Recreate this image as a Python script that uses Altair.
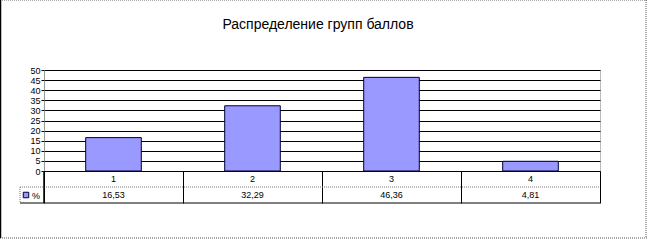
import altair as alt
import pandas as pd

title_text = "Распределение групп баллов"
categories = ["1", "2", "3", "4"]
values = [16.53, 32.29, 46.36, 4.81]
series_name = "%"
y_ticks = [0, 5, 10, 15, 20, 25, 30, 35, 40, 45, 50]

df = pd.DataFrame({
    "cat": categories,
    "val": values,
    "label": [f"{v:.2f}".replace(".", ",") for v in values],
})

W, H = 556, 101
FONT = "Liberation Sans"
BAR = "#9999ff"

x_enc = alt.X("cat:N", sort=categories,
              scale=alt.Scale(paddingInner=0, paddingOuter=0),
              axis=alt.Axis(title=None, labels=False, ticks=True, tickBand="extent",
                            tickSize=32, tickColor="black", tickWidth=1,
                            domainColor="black", domainWidth=1, grid=False))
y_scale = alt.Scale(domain=[0, 50], nice=False)

base = alt.Chart(df)

bars = base.mark_bar(width=alt.RelativeBandSize(0.4), color=BAR, stroke="#000033",
                     strokeWidth=1).encode(
    x=x_enc,
    y=alt.Y("val:Q", scale=y_scale,
            axis=alt.Axis(title=None, values=y_ticks, grid=True, gridColor="black",
                          gridWidth=1, domainColor="#777777", domainDash=[1, 1],
                          tickColor="black", tickSize=3, labelFont=FONT,
                          labelFontSize=9, labelPadding=1, labelColor="black")),
)

cat_text = base.mark_text(font=FONT, fontSize=9, color="black", baseline="middle").encode(
    x=alt.X("cat:N", sort=categories), y=alt.value(H + 8), text="cat:N")
val_text = base.mark_text(font=FONT, fontSize=9, color="black", baseline="middle").encode(
    x=alt.X("cat:N", sort=categories), y=alt.value(H + 24), text="label:N")

one = alt.Chart(pd.DataFrame({"t": [title_text], "s": [series_name]}))

title = one.mark_text(font=FONT, fontSize=14, color="black", baseline="alphabetic").encode(
    x=alt.value(274), y=alt.value(-41), text="t:N")

def hrule(x1, x2, y, color="black", dash=None):
    kw = dict(color=color, strokeWidth=1)
    if dash:
        kw["strokeDash"] = dash
    return one.mark_rule(**kw).encode(x=alt.value(x1), x2=alt.value(x2), y=alt.value(y))

def vrule(x, y1, y2, color="black", dash=None, width=1):
    kw = dict(color=color, strokeWidth=width)
    if dash:
        kw["strokeDash"] = dash
    return one.mark_rule(**kw).encode(x=alt.value(x), y=alt.value(y1), y2=alt.value(y2))

table_lines = [
    hrule(-24, W, H + 16, "#777777", [1, 1]),
    hrule(-24, W, H + 32, "black"),
    vrule(-24, H + 16, H + 32, "#777777", [1, 1]),
    vrule(0, H, H + 32, "black", width=1.5),
]

frame = [
    hrule(-44, 603, -70, "#555555", [1, 1]),
    hrule(-44, 603, 168, "#555555", [1, 1]),
    vrule(-43.5, -70, 168, "black", width=1.5),
    vrule(602, -70, 168, "#555555", [1, 1]),
]

legend_sym = one.mark_square(size=30, color=BAR, stroke="#000033", strokeWidth=1,
                             opacity=1).encode(x=alt.value(-18), y=alt.value(H + 24))
legend_txt = one.mark_text(font=FONT, fontSize=9, color="black", align="left",
                           baseline="middle").encode(
    x=alt.value(-12), y=alt.value(H + 25), text="s:N")

chart = alt.layer(
    bars, cat_text, val_text, title, *table_lines, *frame, legend_sym, legend_txt
).properties(
    width=W, height=H,
    autosize=alt.AutoSizeParams(type="none"),
    padding={"left": 44, "top": 70, "right": 47, "bottom": 69},
    background="white",
).configure_view(
    stroke="#777777", strokeDash=[1, 1], strokeWidth=1
)

chart.save("out.html", embed_options={"renderer": "svg", "actions": False})
